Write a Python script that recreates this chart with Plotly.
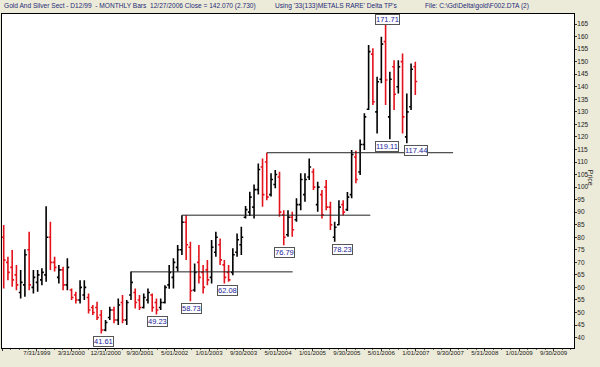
import plotly.graph_objects as go

# month index: months since Jan 1998 (10 = Nov 1998 ... 107 = Dec 2006)
month_index = list(range(10, 108))

bar_open = [80, 70, 68, 65, 58, 61, 75, 60, 62, 63, 65, 80, 70, 64, 67, 61, 59, 57, 55, 57,
            56, 52, 52, 49, 43, 48, 51, 47, 54, 47, 57, 58, 55, 52, 55, 57, 54, 52, 54, 61,
            64, 68, 75, 86, 76, 59, 70, 66, 67, 64, 74, 77, 69, 66, 66, 74, 77, 88, 90, 92,
            99, 108, 110, 97, 101, 104, 89, 81, 88, 87, 93, 97, 104, 106, 93, 97, 100, 92, 80, 85,
            93, 91, 97, 112, 106, 117, 131, 153, 130, 143, 158, 128, 148, 140, 150, 120, 132, 148]
bar_high = [84.9, 72.2, 74.9, 68.9, 66.9, 75.2, 82.2, 66.9, 66.9, 67.6, 92.4, 86.2, 72.2, 68.9, 68.2, 71.6, 59.6, 58.3, 62.9, 62.9,
            57.6, 53.0, 54.3, 51.0, 47.0, 52.3, 52.3, 55.6, 57.0, 55.0, 66.3, 59.6, 57.0, 57.6, 59.6, 57.6, 55.6, 55.6, 60.9, 68.9,
            71.6, 76.9, 88.8, 88.8, 78.2, 69.5, 76.9, 68.9, 70.9, 78.9, 82.2, 79.5, 70.9, 68.9, 75.6, 81.5, 84.2, 92.5, 98.1, 101.0,
            109.4, 111.4, 113.7, 105.5, 106.8, 106.1, 90.8, 90.8, 90.2, 95.5, 105.5, 105.5, 111.4, 107.4, 102.1, 98.8, 102.8, 94.2, 86.2, 94.8,
            94.8, 98.0, 114.8, 114.5, 119.0, 129.4, 156.6, 155.3, 144.0, 159.9, 171.71, 146.0, 150.6, 150.6, 153.3, 137.3, 149.3, 150.0]
bar_low = [59.6, 62.9, 60.3, 58.9, 55.6, 56.3, 58.9, 57.6, 58.3, 60.9, 62.3, 66.9, 66.3, 61.6, 58.9, 58.9, 55.0, 53.6, 53.6, 55.0,
           49.6, 49.0, 47.0, 41.61, 42.5, 47.0, 45.7, 45.0, 45.7, 45.0, 55.0, 51.6, 51.0, 51.6, 53.6, 50.3, 49.23, 51.0, 53.6, 59.5,
           59.6, 66.3, 72.9, 70.9, 54.5, 58.3, 61.6, 57.6, 60.9, 61.6, 72.2, 68.9, 61.6, 62.3, 64.9, 72.2, 72.9, 87.5, 88.5, 87.5,
           97.0, 92.2, 94.8, 96.2, 99.5, 88.2, 76.79, 80.2, 80.2, 86.2, 90.8, 94.2, 102.8, 98.8, 90.2, 87.5, 90.8, 82.9, 78.23, 84.8,
           88.8, 90.5, 95.5, 101.5, 104.8, 114.8, 130.7, 132.7, 121.4, 141.4, 132.7, 119.11, 130.7, 137.3, 121.4, 117.44, 130.7, 136.7]
bar_close = [70.9, 66, 63, 61, 62, 73, 61, 64, 65, 66, 80, 70, 68, 67, 61, 68, 56, 55, 60, 60,
             51, 50, 48, 43, 46, 51, 47, 53, 47, 54, 62, 54, 52, 56, 58, 52, 51, 54, 60, 66,
             70, 75, 86, 77, 58.7, 66, 64, 60, 63, 76, 80, 71, 64, 63, 73, 79, 80, 91, 96, 99,
             107, 97, 96, 103, 105, 90, 80, 88, 83, 93, 103, 103, 108, 100, 100, 89, 92, 85, 84, 92,
             90, 96, 113, 103, 117, 128, 154, 134, 142, 157, 142.7, 143, 137, 148, 128, 130, 147, 142.07]
bar_color = ["R", "R", "R", "R", "B", "B", "R", "B", "B", "B", "B", "R", "R", "B", "R", "B", "R", "R", "B", "B",
             "R", "R", "R", "R", "B", "B", "R", "B", "R", "B", "B", "R", "R", "B", "B", "R", "R", "B", "B", "B",
             "B", "B", "B", "R", "R", "B", "R", "R", "R", "B", "B", "R", "R", "R", "B", "B", "B", "B", "B", "B",
             "B", "R", "R", "B", "B", "R", "R", "B", "R", "B", "B", "B", "B", "R", "B", "R", "R", "R", "B", "B",
             "R", "B", "B", "R", "B", "B", "B", "R", "B", "B", "R", "B", "R", "B", "R", "B", "B", "R"]

# horizontal reference levels: (start month, end month, price)
level_start = [40, 52, 72]
level_end = [78.1, 96.4, 115.9]
level_price = [66.2, 88.8, 113.7]

# turning-point labels
tp_month = [33, 46, 54, 62, 76, 88, 101, 105]
tp_text = ["41.61", "49.23", "58.73", "62.08", "76.79", "78.23", "119.11", "117.44"]
tp_xshift = [2, 1, 1, 3, 1, 8, -3, 9]
peak_month = 100
peak_text = "171.71"

# x-axis tick labels
tick_months = [9.68, 17.8, 25.92, 34.04, 42.16, 50.28, 58.4, 66.52, 74.64, 82.76, 90.88,
               99.0, 107.12, 115.24, 123.36, 131.48, 139.6]
tick_text = ["11/30/1998", "7/31/1999", "3/31/2000", "12/31/2000", "9/30/2001", "5/01/2002",
             "1/01/2003", "9/30/2003", "5/01/2004", "1/01/2005", "9/30/2005", "5/01/2006",
             "1/01/2007", "9/30/2007", "5/31/2008", "1/01/2009", "9/30/2009"]

price_ticks = list(range(40, 170, 5))

fig = go.Figure()

for code, col in (("B", "#000000"), ("R", "#e3131b")):
    idx = [i for i, c in enumerate(bar_color) if c == code]
    fig.add_trace(go.Ohlc(
        x=[month_index[i] for i in idx],
        open=[bar_open[i] for i in idx],
        high=[bar_high[i] for i in idx],
        low=[bar_low[i] for i in idx],
        close=[bar_close[i] for i in idx],
        increasing=dict(line=dict(color=col, width=1.6)),
        decreasing=dict(line=dict(color=col, width=1.6)),
        tickwidth=0.45,
        hoverinfo="skip",
        showlegend=False,
    ))

for s, e, p in zip(level_start, level_end, level_price):
    fig.add_trace(go.Scatter(x=[s, e], y=[p, p], mode="lines",
                             line=dict(color="#222222", width=1),
                             hoverinfo="skip", showlegend=False))

label_font = dict(family="Liberation Sans, Arial, sans-serif", size=7.5, color="#23239a")
for m, t, dx in zip(tp_month, tp_text, tp_xshift):
    low = bar_low[month_index.index(m)]
    fig.add_annotation(x=m, y=low, text=t, showarrow=False, yanchor="top", yshift=-2,
                       xshift=dx, font=label_font, bgcolor="#ffffff",
                       bordercolor="#555555", borderwidth=1, borderpad=0)
fig.add_annotation(x=peak_month, y=1, yref="paper", text=peak_text, showarrow=False,
                   yanchor="top", xshift=2, font=label_font, bgcolor="#ffffff",
                   bordercolor="#555555", borderwidth=1, borderpad=0)

head_font = dict(family="Liberation Sans, Arial, sans-serif", size=6.6, color="#1e2a78")
fig.add_annotation(x=0, y=1.024, xref="paper", yref="paper", xanchor="left", yanchor="middle",
                   text="Gold And Silver Sect - D12/99  - MONTHLY Bars  12/27/2006 Close = 142.070 (2.730)",
                   showarrow=False, font=head_font)
fig.add_annotation(x=0.474, y=1.024, xref="paper", yref="paper", xanchor="left", yanchor="middle",
                   text="Using '33(133)METALS RARE' Delta TP's", showarrow=False, font=head_font)
fig.add_annotation(x=0.736, y=1.024, xref="paper", yref="paper", xanchor="left", yanchor="middle",
                   text="File: C:\\Gd\\Delta\\gold\\F002.DTA (2)", showarrow=False, font=head_font)
fig.add_annotation(x=1.038, y=0.509, xref="paper", yref="paper", text="Price", textangle=90,
                   showarrow=False, font=dict(family="Liberation Sans, Arial, sans-serif", size=7, color="#222222"))

fig.update_layout(
    width=600, height=367,
    margin=dict(l=2, r=26, t=14, b=19, autoexpand=False),
    paper_bgcolor="#ecead9",
    plot_bgcolor="#ffffff",
    xaxis=dict(range=[9.6, 144.4], tickmode="array", tickvals=tick_months, ticktext=tick_text,
               ticks="outside", ticklen=2, tickcolor="#333333", showgrid=False, zeroline=False,
               showline=True, linecolor="#000000", linewidth=1, mirror=True, automargin=False,
               tickfont=dict(family="Liberation Sans, Arial, sans-serif", size=6.1, color="#222222"),
               rangeslider=dict(visible=False), ticklabelstandoff=-3,
               minor=dict(tick0=17.8, dtick=2.03, ticks="outside", ticklen=1, tickcolor="#666666")),
    yaxis=dict(range=[35.85, 169.0], side="right", tickmode="array", tickvals=price_ticks,
               ticks="outside", ticklen=2, tickcolor="#333333", showgrid=False, zeroline=False,
               showline=True, linecolor="#000000", linewidth=1, mirror=True, automargin=False,
               ticklabelstandoff=-1,
               tickfont=dict(family="Liberation Sans, Arial, sans-serif", size=6.5, color="#222222")),
)

fig.write_html("out.html", config={"displayModeBar": False},
               post_script="document.body.style.margin='0px';document.body.style.overflow='hidden';")
